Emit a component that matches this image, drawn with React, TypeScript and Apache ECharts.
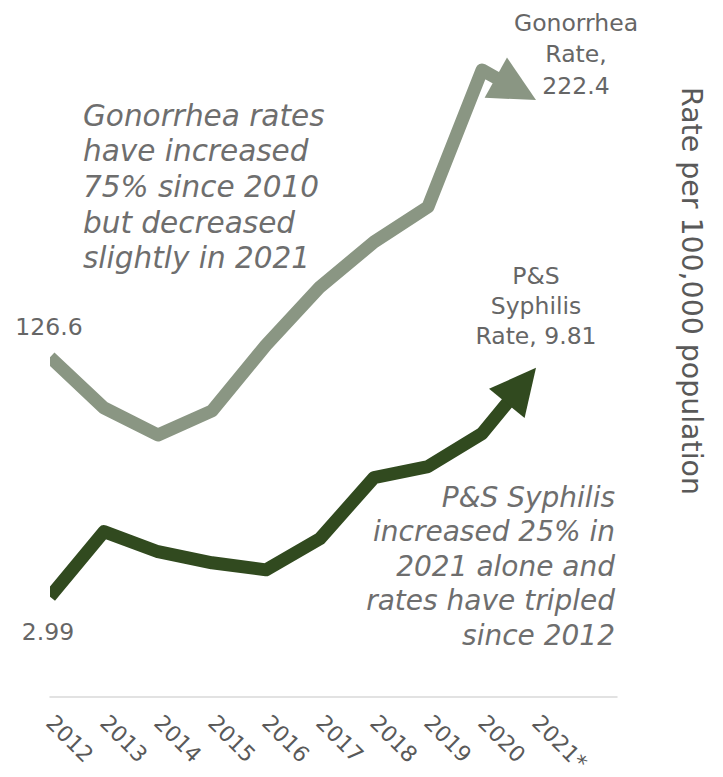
import React, { useEffect, useRef } from 'react';
import * as echarts from 'echarts';

const years = ['2012', '2013', '2014', '2015', '2016', '2017', '2018', '2019', '2020', '2021*'];
const gonorrheaRate = [126.6, 107.7, 97.6, 106.6, 131.1, 152.8, 169.5, 182.6, 233.6, 222.4];
const syphilisRate = [2.99, 4.93, 4.33, 4.0, 3.79, 4.72, 6.54, 6.87, 7.85, 9.81];
const gonorrheaAxisRange = [0, 250];
const syphilisAxisRange = [0, 20];

const gonorrheaNote = ['Gonorrhea rates', 'have increased', '75% since 2010', 'but decreased', 'slightly in 2021'];
const syphilisNote = ['P&S Syphilis', 'increased 25% in', '2021 alone and', 'rates have tripled', 'since 2012'];
const axisTitle = 'Rate per 100,000 population';

const GON_COLOR = '#8a9683';
const SYPH_COLOR = '#314a1f';
const FONT = '"DejaVu Sans", Verdana, sans-serif';

function arrowLine(values: number[], color: string) {
  return (params: any, api: any) => {
    if (params.dataIndex !== 0) return null;
    const pts = values.map((v, i) => api.coord([i, v]));
    const n = pts.length;
    const tip = pts[n - 1];
    const prev = pts[n - 2];
    const dx = tip[0] - prev[0];
    const dy = tip[1] - prev[1];
    const len = Math.hypot(dx, dy);
    const ux = dx / len;
    const uy = dy / len;
    const L = 46;
    const W = 46;
    const bx = tip[0] - ux * L;
    const by = tip[1] - uy * L;
    const linePts = pts.slice(0, n - 1).concat([[bx + ux * 4, by + uy * 4]]);
    return {
      type: 'group',
      children: [
        {
          type: 'polyline',
          shape: { points: linePts },
          style: { stroke: color, lineWidth: 13, fill: 'none', lineJoin: 'round', lineCap: 'butt' },
        },
        {
          type: 'polygon',
          shape: {
            points: [
              tip,
              [bx - (uy * W) / 2, by + (ux * W) / 2],
              [bx + (uy * W) / 2, by - (ux * W) / 2],
            ],
          },
          style: { fill: color },
        },
      ],
    };
  };
}

function labelRenderer(endTitle: string, startOffset: number[], endOffset: number[], lineHeight: number) {
  return (params: any, api: any) => {
    const v = api.value(1);
    const p = api.coord([api.value(0), v]);
    const isEnd = params.dataIndex === 1;
    const off = isEnd ? endOffset : startOffset;
    const text = isEnd ? endTitle + String(v) : String(v);
    return {
      type: 'text',
      x: p[0] + off[0],
      y: p[1] + off[1],
      style: {
        text,
        fill: '#666666',
        fontSize: 23.5,
        fontFamily: FONT,
        align: 'center',
        verticalAlign: 'middle',
        lineHeight,
      },
    };
  };
}

export default function App() {
  const ref = useRef<HTMLDivElement>(null);
  useEffect(() => {
    if (!ref.current) return;
    const chart = echarts.init(ref.current, undefined, { renderer: 'svg' });
    const last = years.length - 1;
    chart.setOption({
      animation: false,
      backgroundColor: '#ffffff',
      grid: { left: 50, top: 26, width: 567, bottom: 80, containLabel: false, outerBoundsMode: 'none' },
      xAxis: {
        type: 'value',
        min: 0,
        max: 10.5,
        interval: 1,
        axisLine: { show: true, onZero: false, lineStyle: { color: '#d9d9d9', width: 1.5 } },
        axisTick: { show: false },
        splitLine: { show: false },
        axisLabel: {
          rotate: -45,
          margin: 22,
          fontSize: 22,
          fontFamily: FONT,
          color: '#595959',
          showMaxLabel: false,
          formatter: (v: number) => (Number.isInteger(v) && years[v] ? years[v] : ''),
        },
      },
      yAxis: [
        { type: 'value', show: false, min: gonorrheaAxisRange[0], max: gonorrheaAxisRange[1] },
        { type: 'value', show: false, position: 'right', min: syphilisAxisRange[0], max: syphilisAxisRange[1] },
      ],
      series: [
        {
          name: 'Gonorrhea Rate',
          type: 'custom',
          yAxisIndex: 0,
          clip: true,
          data: gonorrheaRate.map((v, i) => [i, v]),
          encode: { x: 0, y: 1 },
          renderItem: arrowLine(gonorrheaRate, GON_COLOR),
        },
        {
          name: 'P&S Syphilis Rate',
          type: 'custom',
          yAxisIndex: 1,
          clip: true,
          data: syphilisRate.map((v, i) => [i, v]),
          encode: { x: 0, y: 1 },
          renderItem: arrowLine(syphilisRate, SYPH_COLOR),
        },
        {
          name: 'Gonorrhea labels',
          type: 'custom',
          yAxisIndex: 0,
          clip: false,
          data: [[0, gonorrheaRate[0]], [last, gonorrheaRate[last]]],
          encode: { x: 0, y: 1 },
          renderItem: labelRenderer('Gonorrhea\nRate,\n', [-1, -30], [40, -46], 31.5),
        },
        {
          name: 'Syphilis labels',
          type: 'custom',
          yAxisIndex: 1,
          clip: false,
          data: [[0, syphilisRate[0]], [last, syphilisRate[last]]],
          encode: { x: 0, y: 1 },
          renderItem: labelRenderer('P&S\nSyphilis\nRate, ', [-2, 35], [0, -62], 30),
        },
      ],
      graphic: [
        {
          type: 'text',
          x: 83,
          y: 187,
          style: {
            text: gonorrheaNote.join('\n'),
            font: 'italic 29.5px ' + FONT,
            fill: '#6e6e6e',
            align: 'left',
            verticalAlign: 'middle',
            lineHeight: 35.7,
          },
        },
        {
          type: 'text',
          x: 615,
          y: 566,
          style: {
            text: syphilisNote.join('\n'),
            font: 'italic 28px ' + FONT,
            fill: '#6e6e6e',
            align: 'right',
            verticalAlign: 'middle',
            lineHeight: 34.5,
          },
        },
        {
          type: 'text',
          x: 691,
          y: 291,
          rotation: -Math.PI / 2,
          style: {
            text: axisTitle,
            fontSize: 28.4,
            fontFamily: FONT,
            fill: '#595959',
            align: 'center',
            verticalAlign: 'middle',
          },
        },
      ],
    });
    return () => chart.dispose();
  }, []);
  return <div ref={ref} style={{ position: 'absolute', left: 0, top: 0, width: 723, height: 777 }} />;
}
